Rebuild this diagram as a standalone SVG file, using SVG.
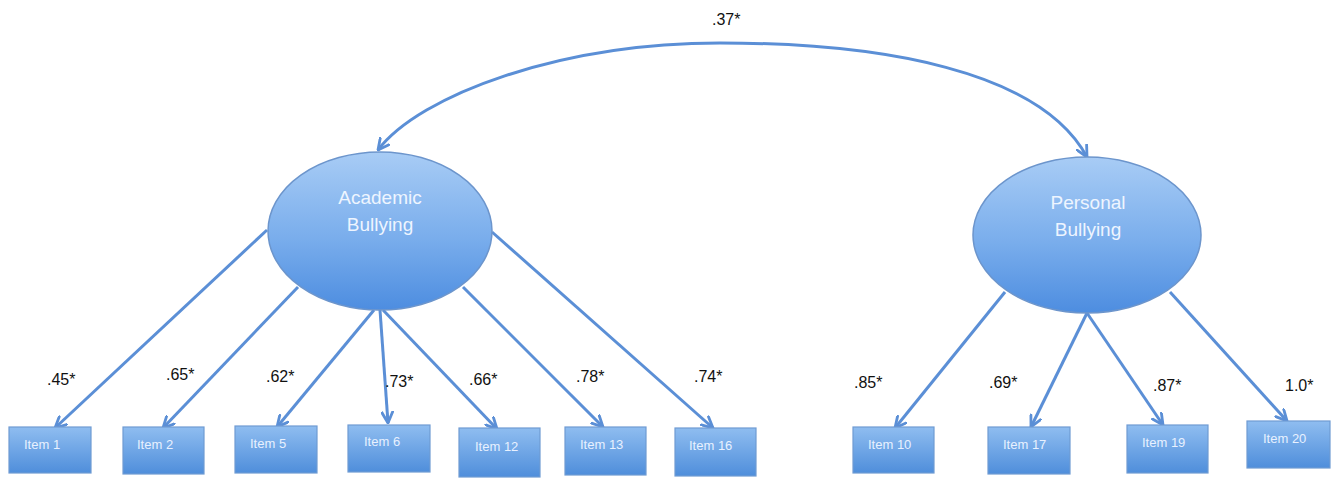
<svg xmlns="http://www.w3.org/2000/svg" width="1342" height="481" viewBox="0 0 1342 481">
<defs>
<linearGradient id="gEll" x1="0" y1="0" x2="0" y2="1">
<stop offset="0" stop-color="#a8ccf5"/>
<stop offset="0.55" stop-color="#79adec"/>
<stop offset="1" stop-color="#4d8de0"/>
</linearGradient>
<linearGradient id="gBox" x1="0" y1="0" x2="0" y2="1">
<stop offset="0" stop-color="#8fbdf0"/>
<stop offset="1" stop-color="#4f8edb"/>
</linearGradient>
<marker id="arr" viewBox="0 0 12 12" refX="11" refY="6" markerWidth="13" markerHeight="13" markerUnits="userSpaceOnUse" orient="auto">
<path d="M1,1 L11,6 L1,11" fill="none" stroke="#5b8fd6" stroke-width="2.6" stroke-linecap="round" stroke-linejoin="round"/>
</marker>
<marker id="arrStart" viewBox="0 0 12 12" refX="1" refY="6" markerWidth="13" markerHeight="13" markerUnits="userSpaceOnUse" orient="auto">
<path d="M11,1 L1,6 L11,11" fill="none" stroke="#5b8fd6" stroke-width="2.6" stroke-linecap="round" stroke-linejoin="round"/>
</marker>
</defs>
<style>
.ell{fill:url(#gEll);stroke:#6c95cc;stroke-width:1.5}
.box{fill:url(#gBox);stroke:#6f9bd3;stroke-width:1.2}
.etxt{font-family:"Liberation Sans",Arial,sans-serif;font-size:19px;fill:#eef5ff;text-anchor:middle}
.btxt{font-family:"Liberation Sans",Arial,sans-serif;font-size:13px;fill:#e8f1ff}
.lbl{font-family:"Liberation Sans",Arial,sans-serif;font-size:16px;fill:#111}
.con{fill:none;stroke:#5b8fd6;stroke-width:3;marker-end:url(#arr)}
</style>
<rect width="1342" height="481" fill="#ffffff"/>

<g id="connectors">
<path class="con" d="M378,150 C420,95 560,43 720,43 C880,43 1040,70 1087,157" marker-start="url(#arrStart)"/>
<line class="con" x1="267" y1="230" x2="55" y2="428"/>
<line class="con" x1="298" y1="287" x2="163" y2="428"/>
<line class="con" x1="374" y1="310" x2="277" y2="427"/>
<line class="con" x1="380" y1="310" x2="388" y2="423"/>
<line class="con" x1="383" y1="310" x2="497" y2="429"/>
<line class="con" x1="463" y1="287" x2="603" y2="427"/>
<line class="con" x1="492" y1="232" x2="713" y2="428"/>
<line class="con" x1="1005" y1="292" x2="895" y2="428"/>
<line class="con" x1="1087" y1="313" x2="1031" y2="427"/>
<line class="con" x1="1087" y1="313" x2="1163" y2="425"/>
<line class="con" x1="1170" y1="292" x2="1287" y2="421"/>
</g>

<g id="labels">
<text class="lbl" x="712" y="25">.37*</text>
<text class="lbl" x="47" y="385">.45*</text>
<text class="lbl" x="166" y="380">.65*</text>
<text class="lbl" x="266" y="382">.62*</text>
<text class="lbl" x="385" y="387">.73*</text>
<text class="lbl" x="469" y="385">.66*</text>
<text class="lbl" x="576" y="382">.78*</text>
<text class="lbl" x="694" y="382">.74*</text>
<text class="lbl" x="854" y="388">.85*</text>
<text class="lbl" x="989" y="388">.69*</text>
<text class="lbl" x="1153" y="391">.87*</text>
<text class="lbl" x="1285" y="391">1.0*</text>
</g>

<g id="academic">
<ellipse class="ell" cx="380" cy="231" rx="112" ry="79"/>
<text class="etxt" x="380" y="204">Academic</text>
<text class="etxt" x="380" y="231">Bullying</text>
</g>
<g id="personal">
<ellipse class="ell" cx="1087" cy="235" rx="114" ry="78"/>
<text class="etxt" x="1088" y="209">Personal</text>
<text class="etxt" x="1088" y="236">Bullying</text>
</g>

<g id="item1"><rect class="box" x="9" y="427" width="82" height="46"/><text class="btxt" x="24" y="449">Item 1</text></g>
<g id="item2"><rect class="box" x="123" y="427" width="81" height="47"/><text class="btxt" x="137" y="449">Item 2</text></g>
<g id="item5"><rect class="box" x="235" y="426" width="82" height="47"/><text class="btxt" x="250" y="448">Item 5</text></g>
<g id="item6"><rect class="box" x="348" y="425" width="82" height="47"/><text class="btxt" x="364" y="446">Item 6</text></g>
<g id="item12"><rect class="box" x="459" y="428" width="81" height="49"/><text class="btxt" x="475" y="451">Item 12</text></g>
<g id="item13"><rect class="box" x="565" y="427" width="81" height="48"/><text class="btxt" x="580" y="449">Item 13</text></g>
<g id="item16"><rect class="box" x="675" y="428" width="81" height="48"/><text class="btxt" x="689" y="450">Item 16</text></g>
<g id="item10"><rect class="box" x="853" y="427" width="81" height="46"/><text class="btxt" x="868" y="449">Item 10</text></g>
<g id="item17"><rect class="box" x="988" y="427" width="82" height="47"/><text class="btxt" x="1003" y="449">Item 17</text></g>
<g id="item19"><rect class="box" x="1127" y="425" width="81" height="48"/><text class="btxt" x="1142" y="447">Item 19</text></g>
<g id="item20"><rect class="box" x="1247" y="421" width="83" height="47"/><text class="btxt" x="1263" y="443">Item 20</text></g>
</svg>
